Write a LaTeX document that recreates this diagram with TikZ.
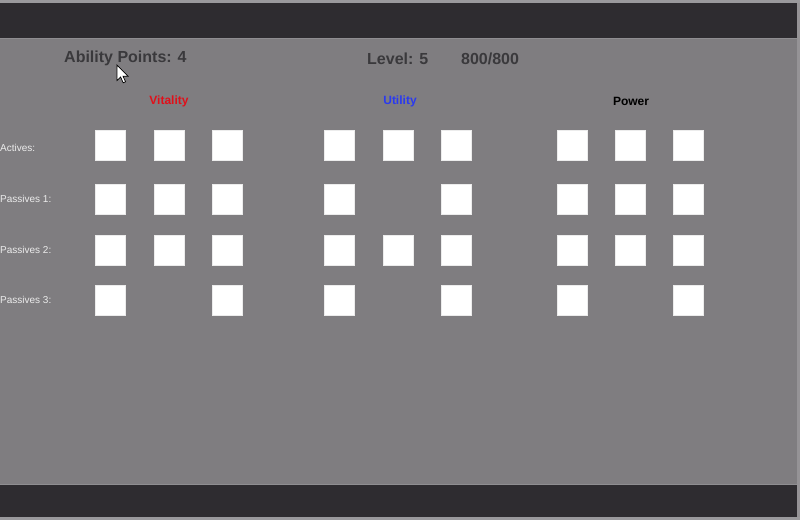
\documentclass[tikz,border=0pt]{standalone}
\usepackage{fontspec}
\setmainfont{Liberation Sans}
\definecolor{bggray}{HTML}{7F7D80}
\definecolor{barcol}{HTML}{2E2C30}
\definecolor{edgecol}{HTML}{9A999C}
\definecolor{headcol}{HTML}{3A393C}
\definecolor{labcol}{HTML}{ECECEC}
\definecolor{vitred}{HTML}{E0101A}
\definecolor{utiblue}{HTML}{2A3AF0}
\tikzset{
  slot/.style={fill=white, draw=white!85!gray, line width=0.4pt, inner sep=0pt, minimum width=30pt, minimum height=29.5pt, anchor=north west},
  header/.style={text=headcol, font=\fontsize{16}{19}\selectfont\bfseries, inner sep=0pt, anchor=west},
  cat/.style={font=\fontsize{12}{14}\selectfont\bfseries, inner sep=0pt},
  rowlab/.style={text=labcol, font=\fontsize{10}{12}\selectfont, inner sep=0pt, anchor=west}
}
\begin{document}
\begin{tikzpicture}[x=1pt,y=-1pt]
\useasboundingbox (0,0) rectangle (800,520);
% background
\fill[bggray] (0,0) rectangle (800,520);
\fill[edgecol] (0,0) rectangle (800,3);
\fill[barcol] (0,3) rectangle (797,37.5);
\fill[barcol] (0,485) rectangle (797,517);
\fill[edgecol] (0,517) rectangle (800,520);
\fill[edgecol!80!bggray] (797,3) rectangle (800,517);
\draw[edgecol!60!bggray, line width=0.6pt] (0,37.8) -- (797,37.8);
\draw[edgecol!60!bggray, line width=0.6pt] (0,484.7) -- (797,484.7);
% header
\node[header] (ap) at (64,58.5) {Ability Points: 4};
\node[header] (lvl) at (367,58.5) {Level: 5};
\node[header] (hp) at (461,58.5) {800/800};
% categories
\node[cat, text=vitred] (vit) at (169,101) {Vitality};
\node[cat, text=utiblue] (uti) at (400,101) {Utility};
\node[cat, text=black] (pow) at (631,101) {Power};
% row labels
\node[rowlab] (la) at (0,148) {Actives:};
\node[rowlab] (lp1) at (0,199) {Passives 1:};
\node[rowlab] (lp2) at (0,250) {Passives 2:};
\node[rowlab] (lp3) at (0,300) {Passives 3:};
% slots: rows y = 130, 184, 235, 285
% Vitality
\node[slot] (v11) at (95,130) {};
\node[slot] (v12) at (153.5,130) {};
\node[slot] (v13) at (212,130) {};
\node[slot] (v21) at (95,184) {};
\node[slot] (v22) at (153.5,184) {};
\node[slot] (v23) at (212,184) {};
\node[slot] (v31) at (95,235) {};
\node[slot] (v32) at (153.5,235) {};
\node[slot] (v33) at (212,235) {};
\node[slot] (v41) at (95,285) {};
\node[slot] (v43) at (212,285) {};
% Utility
\node[slot] (u11) at (323.5,130) {};
\node[slot] (u12) at (382.5,130) {};
\node[slot] (u13) at (440.5,130) {};
\node[slot] (u21) at (323.5,184) {};
\node[slot] (u23) at (440.5,184) {};
\node[slot] (u31) at (323.5,235) {};
\node[slot] (u32) at (382.5,235) {};
\node[slot] (u33) at (440.5,235) {};
\node[slot] (u41) at (323.5,285) {};
\node[slot] (u43) at (440.5,285) {};
% Power
\node[slot] (p11) at (556.5,130) {};
\node[slot] (p12) at (614.5,130) {};
\node[slot] (p13) at (673,130) {};
\node[slot] (p21) at (556.5,184) {};
\node[slot] (p22) at (614.5,184) {};
\node[slot] (p23) at (673,184) {};
\node[slot] (p31) at (556.5,235) {};
\node[slot] (p32) at (614.5,235) {};
\node[slot] (p33) at (673,235) {};
\node[slot] (p41) at (556.5,285) {};
\node[slot] (p43) at (673,285) {};
% mouse cursor
\begin{scope}[shift={(117,65)}]
\fill[white, draw=black, line width=0.7pt, line join=miter]
  (0,0) -- (0,15.5) -- (3.6,12) -- (6.2,17.8) -- (8.6,16.8) -- (6,11.2) -- (11,11.2) -- cycle;
\end{scope}
\end{tikzpicture}
\end{document}
